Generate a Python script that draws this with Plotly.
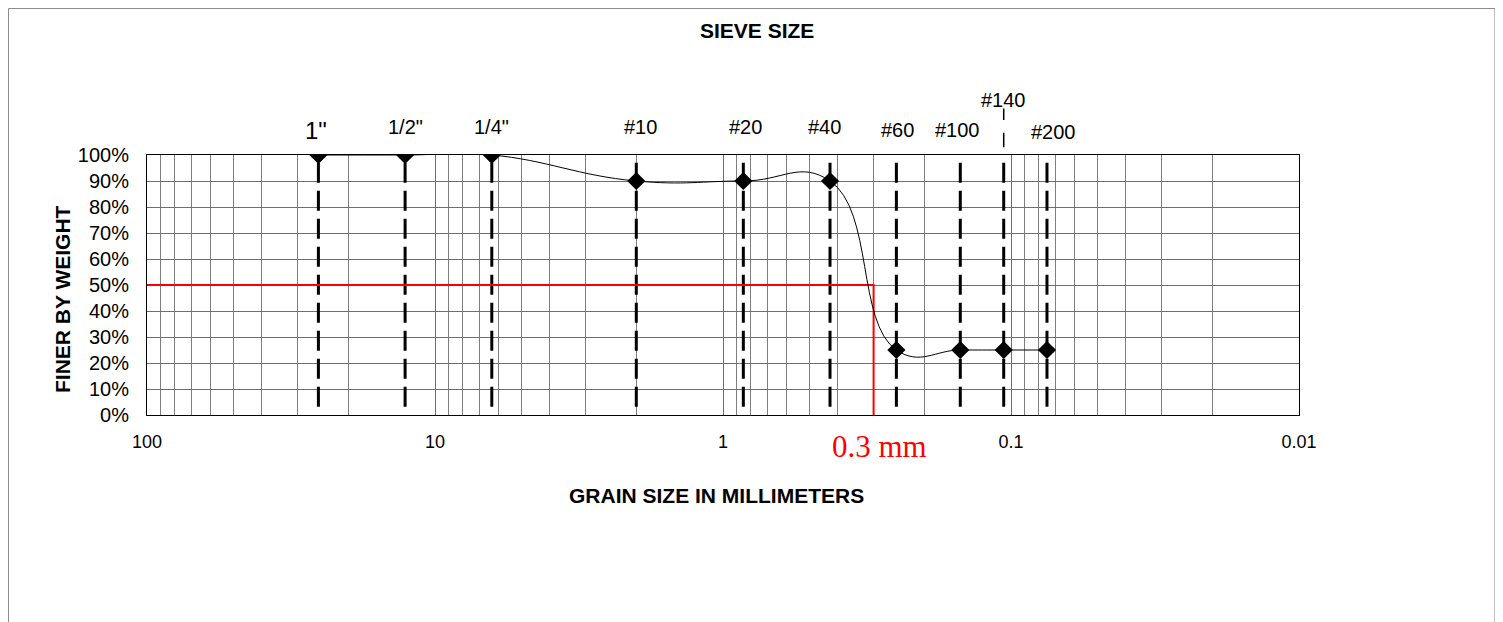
import math
import plotly.graph_objects as go

# ---- data ----
sieve_labels = ['1"', '1/2"', '1/4"', '#10', '#20', '#40', '#60', '#100', '#140', '#200']
sieve_mm = [25.4, 12.7, 6.35, 2.0, 0.85, 0.425, 0.25, 0.15, 0.106, 0.075]
percent_finer = [1.00, 1.00, 1.00, 0.90, 0.90, 0.90, 0.25, 0.25, 0.25, 0.25]
d50_mm = 0.3
d50_pct = 0.5
x_tick_vals = [100, 10, 1, 0.1, 0.01]

# ---- styling (not data) ----
FONT = "Liberation Sans, Arial, sans-serif"
label_xshift = [-2, 0, 0, 4, 2, -6, 1, -3, 0, 7]
label_ypaper = [1.096, 1.108, 1.108, 1.108, 1.108, 1.108, 1.096, 1.096, 1.212, 1.088]
label_size = [24, 20, 20, 20, 20, 20, 20, 20, 20, 20]
dash_lo, dash_hi = 0.03, 0.97

fig = go.Figure()

# dashed sieve lines
dx, dy = [], []
for s in sieve_mm:
    dx += [s, s, None]
    dy += [dash_hi, dash_lo, None]
fig.add_trace(go.Scatter(x=dx, y=dy, mode="lines",
                         line=dict(color="black", width=3, dash="20px,8px"),
                         hoverinfo="skip", showlegend=False))

# D50 red guide
fig.add_trace(go.Scatter(x=[x_tick_vals[0], d50_mm, d50_mm], y=[d50_pct, d50_pct, 0],
                         mode="lines", line=dict(color="#ff0000", width=2),
                         showlegend=False))

# gradation curve
fig.add_trace(go.Scatter(x=sieve_mm, y=percent_finer, mode="lines+markers",
                         line=dict(color="black", width=1, shape="spline", smoothing=1.3),
                         marker=dict(symbol="diamond", size=14, color="black"),
                         showlegend=False))

annotations = []
for lab, s, xs, yp, fs in zip(sieve_labels, sieve_mm, label_xshift, label_ypaper, label_size):
    annotations.append(dict(x=math.log10(s), y=yp, xref="x", yref="paper", text=lab,
                            xanchor="center", yanchor="middle",
                            showarrow=False, xshift=xs, font=dict(family=FONT, size=fs, color="black")))

# #140 dashed extension above the plot (two thin dash segments, unclipped)
for y_start, length in [(1.03, 16), (1.135, 13)]:
    annotations.append(dict(x=math.log10(sieve_mm[8]), y=y_start, xref="x", yref="paper", text="",
                            showarrow=True, arrowhead=0, arrowwidth=1.5, arrowcolor="black",
                            axref="pixel", ayref="pixel", ax=0, ay=-length, standoff=0, startstandoff=0))

annotations += [
    dict(x=math.log10(d50_mm), y=-0.123, xref="x", yref="paper", text="0.3 mm", showarrow=False,
         xanchor="center", yanchor="middle", xshift=6,
         font=dict(family="Liberation Serif, Times New Roman, serif", size=31, color="#ff0000")),
    dict(x=0.5295, y=1.477, xref="paper", yref="paper", text="<b>SIEVE SIZE</b>", showarrow=False,
         xanchor="center", yanchor="middle", font=dict(family=FONT, size=21, color="black")),
    dict(x=0.494, y=-0.3077, xref="paper", yref="paper", text="<b>GRAIN SIZE IN MILLIMETERS</b>",
         xanchor="center", yanchor="middle",
         showarrow=False, font=dict(family=FONT, size=21, color="black")),
    dict(x=-0.0738, y=0.446, xref="paper", yref="paper", text="<b>FINER BY WEIGHT</b>",
         xanchor="center", yanchor="middle",
         showarrow=False, textangle=-90, font=dict(family=FONT, size=21, color="black")),
]

shapes = [
    # outer chart border
    dict(type="rect", xref="paper", yref="paper", x0=-0.1202, x1=1.1701, y0=-0.95, y1=1.5635,
         line=dict(color="#8c8c8c", width=1), fillcolor="rgba(0,0,0,0)", layer="below"),
]

# page has an 8px body margin: figure is shrunk by 8px so the plot lands where the reference has it
fig.update_layout(
    width=1495, height=614,
    margin=dict(l=139, r=204, t=147, b=207),
    paper_bgcolor="white", plot_bgcolor="white",
    font=dict(family=FONT, size=18, color="black"),
    annotations=annotations, shapes=shapes,
    showlegend=False,
)
fig.update_xaxes(type="log", range=[2, -2], dtick=1, tick0=0,
                 showgrid=True, gridcolor="#6e6e6e", gridwidth=1,
                 minor=dict(dtick="D1", showgrid=True, gridcolor="#7e7e7e", gridwidth=1, ticks=""),
                 showline=True, linecolor="black", linewidth=1, mirror=True,
                 ticks="", ticklabelstandoff=10, tickfont=dict(size=18),
                 zeroline=False)
fig.update_yaxes(range=[0, 1], dtick=0.1, tick0=0, tickformat=".0%",
                 showgrid=True, gridcolor="#6e6e6e", gridwidth=1,
                 showline=True, linecolor="black", linewidth=1, mirror=True,
                 ticks="", ticklabelstandoff=13, tickfont=dict(size=20),
                 zeroline=False)

fig.write_html("out.html")
